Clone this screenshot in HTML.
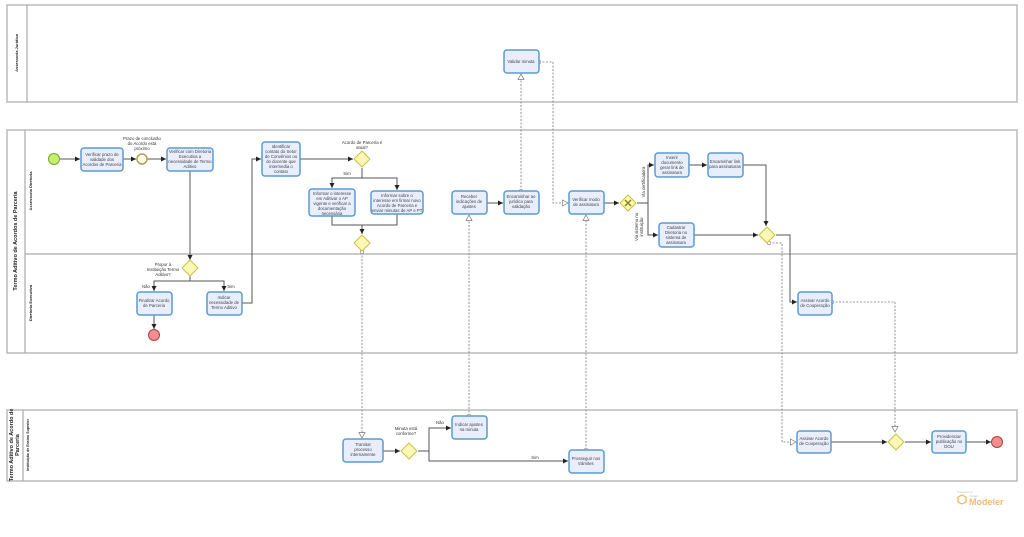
<!DOCTYPE html>
<html><head><meta charset="utf-8"><style>
html,body{margin:0;padding:0;background:#fff;}
svg{display:block;font-family:"Liberation Sans",sans-serif;}
.t{fill:#e9eefc;stroke:#5b9bd0;stroke-width:1.5;}
.tx{font-size:4.3px;fill:#444;text-anchor:middle;}
.lb{font-size:4.3px;fill:#333;text-anchor:middle;}
.f{fill:none;stroke:#555;stroke-width:1;}
.m{fill:none;stroke:#777;stroke-width:0.8;stroke-dasharray:2,1.5;}
.g{fill:#fbf7b5;stroke:#c8c24a;stroke-width:1;}
.pl{fill:none;stroke:#aaa;stroke-width:1.2;}
.ph{font-size:5.5px;font-weight:bold;fill:#222;text-anchor:middle;}
.lh{font-size:4px;font-weight:bold;fill:#222;text-anchor:middle;}
</style></head><body>
<svg width="1024" height="537" viewBox="0 0 1024 537" xmlns="http://www.w3.org/2000/svg">
<defs>
<marker id="a" markerWidth="6" markerHeight="6" refX="5" refY="3" orient="auto" markerUnits="userSpaceOnUse"><path d="M0,0.5 L5,3 L0,5.5z" fill="#222"/></marker>
<marker id="o" markerWidth="7" markerHeight="7" refX="6" refY="3.5" orient="auto" markerUnits="userSpaceOnUse"><path d="M0.5,0.5 L6,3.5 L0.5,6.5z" fill="#fff" stroke="#777" stroke-width="0.7"/></marker>
<marker id="c" markerWidth="5" markerHeight="5" refX="2.5" refY="2.5" orient="auto" markerUnits="userSpaceOnUse"><circle cx="2.5" cy="2.5" r="1.8" fill="#fff" stroke="#777" stroke-width="0.6"/></marker>
</defs>

<!-- Pools -->
<rect x="7" y="5" width="1010" height="97" class="pl"/>
<line x1="27" y1="5" x2="27" y2="102" class="pl"/>
<text class="lh" transform="translate(18,53) rotate(-90)">Assessoria Jurídica</text>

<rect x="7" y="130" width="1010" height="223" class="pl"/>
<line x1="25" y1="130" x2="25" y2="353" class="pl"/>
<line x1="25" y1="254" x2="1017" y2="254" class="pl"/>
<text class="ph" transform="translate(17,241) rotate(-90)">Termo Aditivo de Acordos de Parceria</text>
<text class="lh" transform="translate(32,191) rotate(-90)">Assessoria Diretoria</text>
<text class="lh" transform="translate(32,303) rotate(-90)">Diretoria Executiva</text>

<rect x="7" y="410" width="1010" height="71" class="pl"/>
<line x1="23" y1="410" x2="23" y2="481" class="pl"/>
<text class="ph" transform="translate(13,445) rotate(-90)"><tspan x="0" dy="0">Termo Aditivo de Acordo de</tspan><tspan x="0" dy="6">Parceria</tspan></text>
<text class="lh" transform="translate(29,445) rotate(-90)" style="font-size:3.6px">Instituição de Ensino Superior</text>

<!-- Sequence flows -->
<path class="f" d="M60,159 H80" marker-end="url(#a)"/>
<path class="f" d="M123,159 H136" marker-end="url(#a)"/>
<path class="f" d="M147,159 H166" marker-end="url(#a)"/>
<path class="f" d="M190,171 V260" marker-end="url(#a)"/>
<path class="f" d="M190,276 V281 H154 V291" marker-end="url(#a)"/>
<path class="f" d="M190,281 H224 V291" marker-end="url(#a)"/>
<path class="f" d="M154,315 V329" marker-end="url(#a)"/>
<path class="f" d="M242,303 H252 V159 H261" marker-end="url(#a)"/>
<path class="f" d="M300,159 H353" marker-end="url(#a)"/>
<path class="f" d="M362,168 V178 H332 V188" marker-end="url(#a)"/>
<path class="f" d="M362,178 H397 V190" marker-end="url(#a)"/>
<path class="f" d="M332,216 V225 H362 V234" marker-end="url(#a)"/>
<path class="f" d="M397,214 V225 H362"/>
<path class="f" d="M487,203 H503" marker-end="url(#a)"/>
<path class="f" d="M604,203 H619" marker-end="url(#a)"/>
<path class="f" d="M637,203 H648 V165 H654" marker-end="url(#a)"/>
<path class="f" d="M648,203 V235 H658" marker-end="url(#a)"/>
<path class="f" d="M689,165 H707" marker-end="url(#a)"/>
<path class="f" d="M743,165 H766 V226" marker-end="url(#a)"/>
<path class="f" d="M694,235 H758" marker-end="url(#a)"/>
<path class="f" d="M776,235 H790 V302 H797" marker-end="url(#a)"/>
<path class="f" d="M383,451 H400" marker-end="url(#a)"/>
<path class="f" d="M418,451 H429 V428 H451" marker-end="url(#a)"/>
<path class="f" d="M429,451 V461 H568" marker-end="url(#a)"/>
<path class="f" d="M831,442 H887" marker-end="url(#a)"/>
<path class="f" d="M905,442 H931" marker-end="url(#a)"/>
<path class="f" d="M966,442 H991" marker-end="url(#a)"/>

<!-- Message flows -->
<path class="m" d="M362,252 V438" marker-start="url(#c)" marker-end="url(#o)"/>
<path class="m" d="M469,416 V215" marker-start="url(#c)" marker-end="url(#o)"/>
<path class="m" d="M521,191 V74" marker-start="url(#c)" marker-end="url(#o)"/>
<path class="m" d="M539,62 H553 V203 H568" marker-start="url(#c)" marker-end="url(#o)"/>
<path class="m" d="M586,450 V215" marker-start="url(#c)" marker-end="url(#o)"/>
<path class="m" d="M769,243 H782 V442 H796" marker-start="url(#c)" marker-end="url(#o)"/>
<path class="m" d="M832,302 H895 V432" marker-start="url(#c)" marker-end="url(#o)"/>

<!-- Events -->
<circle cx="54" cy="159" r="5.5" fill="#c6f06c" stroke="#6fa82a" stroke-width="1"/>
<circle cx="142" cy="159" r="5" fill="#fbfbe8" stroke="#a8a25a" stroke-width="1.5"/>
<circle cx="154" cy="335" r="5.5" fill="#ef8f8f" stroke="#b43c3c" stroke-width="1"/>
<circle cx="997" cy="442" r="5.5" fill="#ef8f8f" stroke="#b43c3c" stroke-width="1"/>

<!-- Gateways -->
<path class="g" d="M362,151 L370,159 L362,167 L354,159z"/>
<path class="g" d="M362,235 L370,243 L362,251 L354,243z"/>
<path class="g" d="M190,260 L198,268 L190,276 L182,268z"/>
<path class="g" d="M628,195 L636,203 L628,211 L620,203z"/>
<path d="M625,200 L631,206 M631,200 L625,206" stroke="#8a8a10" stroke-width="1.5"/>
<path class="g" d="M767,227 L775,235 L767,243 L759,235z"/>
<path class="g" d="M409,443 L417,451 L409,459 L401,451z"/>
<path class="g" d="M896,434 L904,442 L896,450 L888,442z"/>

<!-- Tasks -->
<rect class="t" x="81" y="148" width="42" height="23" rx="3"/>
<text class="tx"><tspan x="102" y="156">Verificar prazo de</tspan><tspan x="102" y="161">validade dos</tspan><tspan x="102" y="166">Acordos de Parceria</tspan></text>
<rect class="t" x="167" y="148" width="46" height="23" rx="3"/>
<text class="tx"><tspan x="190" y="153">Verificar com Diretoria</tspan><tspan x="190" y="158">Executiva a</tspan><tspan x="190" y="163">necessidade de Termo</tspan><tspan x="190" y="168">Aditivo</tspan></text>
<rect class="t" x="262" y="142" width="38" height="34" rx="3"/>
<text class="tx"><tspan x="281" y="148">Identificar</tspan><tspan x="281" y="153">contato do Setor</tspan><tspan x="281" y="158">de Convênios ou</tspan><tspan x="281" y="163">do docente que</tspan><tspan x="281" y="168">intermedia o</tspan><tspan x="281" y="173">contato</tspan></text>
<rect class="t" x="309" y="189" width="46" height="27" rx="3"/>
<text class="tx"><tspan x="332" y="195">Informar o interesse</tspan><tspan x="332" y="200">em Aditivar o AP</tspan><tspan x="332" y="205">vigente e verificar a</tspan><tspan x="332" y="210">documentação</tspan><tspan x="332" y="215">necessária</tspan></text>
<rect class="t" x="371" y="191" width="52" height="23" rx="3"/>
<text class="tx"><tspan x="397" y="197">Informar sobre o</tspan><tspan x="397" y="202">interesse em firmar novo</tspan><tspan x="397" y="207">Acordo de Parceria e</tspan><tspan x="397" y="212">enviar minutas de AP e PT</tspan></text>
<rect class="t" x="137" y="292" width="35" height="23" rx="3"/>
<text class="tx"><tspan x="154" y="302">Finalizar Acordo</tspan><tspan x="154" y="307">de Parceria</tspan></text>
<rect class="t" x="207" y="292" width="35" height="23" rx="3"/>
<text class="tx"><tspan x="224" y="299">Indicar</tspan><tspan x="224" y="304">necessidade de</tspan><tspan x="224" y="309">Termo Aditivo</tspan></text>
<rect class="t" x="452" y="191" width="35" height="23" rx="3"/>
<text class="tx"><tspan x="469" y="198">Receber</tspan><tspan x="469" y="203">indicações de</tspan><tspan x="469" y="208">ajustes</tspan></text>
<rect class="t" x="504" y="191" width="35" height="23" rx="3"/>
<text class="tx"><tspan x="521" y="198">Encaminhar ao</tspan><tspan x="521" y="203">jurídico para</tspan><tspan x="521" y="208">validação</tspan></text>
<rect class="t" x="504" y="50" width="35" height="23" rx="3"/>
<text class="tx"><tspan x="521" y="63">Validar minuta</tspan></text>
<rect class="t" x="569" y="191" width="35" height="23" rx="3"/>
<text class="tx"><tspan x="586" y="201">Verificar modo</tspan><tspan x="586" y="206">de assinatura</tspan></text>
<rect class="t" x="655" y="153" width="34" height="24" rx="3"/>
<text class="tx"><tspan x="672" y="159">Inserir</tspan><tspan x="672" y="164">documento</tspan><tspan x="672" y="169">gerar link de</tspan><tspan x="672" y="174">assinatura</tspan></text>
<rect class="t" x="708" y="153" width="35" height="24" rx="3"/>
<text class="tx"><tspan x="725" y="163">Encaminhar link</tspan><tspan x="725" y="168">para assinaturas</tspan></text>
<rect class="t" x="659" y="223" width="35" height="24" rx="3"/>
<text class="tx"><tspan x="676" y="229">Cadastrar</tspan><tspan x="676" y="234">Diretoria no</tspan><tspan x="676" y="239">sistema de</tspan><tspan x="676" y="244">assinatura</tspan></text>
<rect class="t" x="798" y="292" width="34" height="23" rx="3"/>
<text class="tx"><tspan x="815" y="302">Assinar Acordo</tspan><tspan x="815" y="307">de Cooperação</tspan></text>
<rect class="t" x="343" y="439" width="40" height="23" rx="3"/>
<text class="tx"><tspan x="363" y="446">Tramitar</tspan><tspan x="363" y="451">processo</tspan><tspan x="363" y="456">internamente</tspan></text>
<rect class="t" x="452" y="416" width="35" height="23" rx="3"/>
<text class="tx"><tspan x="469" y="426">Indicar ajustes</tspan><tspan x="469" y="431">na minuta</tspan></text>
<rect class="t" x="569" y="450" width="35" height="23" rx="3"/>
<text class="tx"><tspan x="586" y="460">Prosseguir nos</tspan><tspan x="586" y="465">trâmites</tspan></text>
<rect class="t" x="797" y="431" width="34" height="22" rx="3"/>
<text class="tx"><tspan x="814" y="440">Assinar Acordo</tspan><tspan x="814" y="445">de Cooperação</tspan></text>
<rect class="t" x="932" y="431" width="34" height="22" rx="3"/>
<text class="tx"><tspan x="949" y="438">Providenciar</tspan><tspan x="949" y="443">publicação no</tspan><tspan x="949" y="448">DOU</tspan></text>

<!-- Labels -->
<text class="lb"><tspan x="142" y="140">Prazo de conclusão</tspan><tspan x="142" y="145">do Acordo está</tspan><tspan x="142" y="150">próximo</tspan></text>
<text class="lb"><tspan x="362" y="144">Acordo de Parceria é</tspan><tspan x="362" y="149">atual?</tspan></text>
<text class="lb" x="347" y="175">Sim</text>
<text class="lb"><tspan x="163" y="266">Propor à</tspan><tspan x="163" y="271">Instituição Termo</tspan><tspan x="163" y="276">Aditivo?</tspan></text>
<text class="lb" x="146" y="288">Não</text>
<text class="lb" x="231" y="288">Sim</text>
<text class="lb" transform="translate(645,182) rotate(-90)">Via certificadora</text>
<text class="lb" transform="translate(638,227) rotate(-90)"><tspan x="0" y="0">Via sistema na</tspan><tspan x="0" y="5">instituição</tspan></text>
<text class="lb"><tspan x="406" y="430">Minuta está</tspan><tspan x="406" y="435">conforme?</tspan></text>
<text class="lb" x="440" y="424">Não</text>
<text class="lb" x="535" y="459">Sim</text>

<!-- Watermark -->
<text x="957" y="493" style="font-size:3px;fill:#bbb">Powered by</text>
<path d="M958,497 l4,-2 l4,2 v5 l-4,2 l-4,-2z" fill="none" stroke="#f5b060" stroke-width="1.2"/>
<text x="970" y="497" style="font-size:3px;fill:#bbb">bizagi</text>
<text x="969" y="505" style="font-size:9px;fill:#f5b878;font-weight:bold">Modeler</text>
</svg>
</body></html>
